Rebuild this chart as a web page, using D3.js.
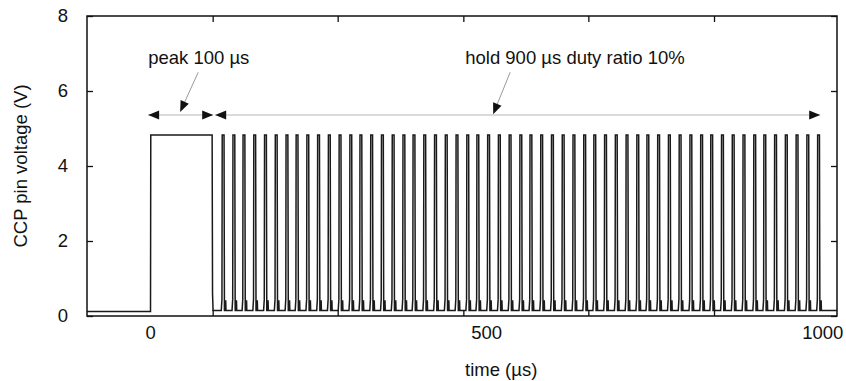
<!DOCTYPE html>
<html>
<head>
<meta charset="utf-8">
<script src="https://cdn.jsdelivr.net/npm/d3@7"></script>
<style>
  body { margin: 0; background: #fff; }
  text { font-family: "Liberation Sans", Arial, sans-serif; fill: #111; }
</style>
</head>
<body>
<svg id="chart" width="846" height="381"></svg>
<script>
// time in µs, voltage in V
const xLabelTicks = [0, 500, 1000];
const xTickMarks = [93, 279, 466, 652, 839];
const yTicks = [0, 2, 4, 6, 8];

// main "peak" pulse and baseline
const peakTrace = [[-94, 0.12], [0.5, 0.12], [0.9, 4.83], [92.2, 4.83], [92.8, 0.6], [93.6, 0.15]];

// rising edge times of the 10% hold pulses
const holdPulses = [107, 123, 138, 154, 170, 186, 202, 217, 233, 249, 265, 281, 297, 312,
  328, 344, 360, 376, 391, 407, 423, 439, 455, 471, 486, 502, 518, 534, 550, 565, 581,
  597, 613, 629, 645, 660, 676, 692, 708, 724, 739, 755, 771, 787, 803, 819, 834, 850,
  866, 882, 898, 913, 929, 945, 961, 977, 993];
// shape of one hold pulse: [offset µs, volts]
const pulseShape = [[-1.2, 0.15], [-0.2, 0.45], [0.2, 4.83], [2.9, 4.83], [3.5, 0.15],
  [5.0, 0.15], [5.4, 0.42], [5.8, 0.15]];
const tailTrace = [[1022, 0.15]];

// annotations (data coords)
const arrows = [
  { x1: -3, x2: 93.8, y: 5.36 },
  { x1: 96.7, x2: 997, y: 5.36 }
];
const pointers = [
  { x1: 71.5, y1: 6.5, x2: 44.6, y2: 5.44 },
  { x1: 535.7, y1: 6.5, x2: 510.4, y2: 5.38 }
];
const notes = [
  { x: -3, y: 6.72, text: 'peak 100 µs' },
  { x: 468.8, y: 6.72, text: 'hold 900 µs duty ratio 10%' }
];

const svg = d3.select('#chart');
const margin = { left: 87, right: 9, top: 16, bottom: 65 };
const width = 846 - margin.left - margin.right;
const height = 381 - margin.top - margin.bottom;
const fontSize = 18.5;

const x = d3.scaleLinear().domain([-94, 1022]).range([0, width]);
const y = d3.scaleLinear().domain([0, 8]).range([height, 0]);

const g = svg.append('g').attr('transform', `translate(${margin.left},${margin.top})`);

// build the trace from the arrays above
let trace = peakTrace.slice();
holdPulses.forEach((t) => {
  pulseShape.forEach(([dt, v]) => trace.push([t + dt, v]));
});
trace = trace.concat(tailTrace);

const line = d3.line()
  .x((d) => x(d[0]))
  .y((d) => y(d[1]));

g.append('path')
  .datum(trace)
  .attr('fill', 'none')
  .attr('stroke', '#1a1a1a')
  .attr('stroke-width', 1.5)
  .attr('stroke-linejoin', 'miter')
  .attr('d', line);

// axes: ticks inward, mirrored
const tickLen = 6;
g.append('g')
  .call(d3.axisLeft(y).tickValues(yTicks).tickSize(-tickLen).tickPadding(19).tickFormat(d3.format('d')))
  .call((a) => a.select('.domain').remove());
g.append('g')
  .attr('transform', `translate(${width},0)`)
  .call(d3.axisRight(y).tickValues(yTicks).tickSize(-tickLen).tickFormat(''))
  .call((a) => a.select('.domain').remove());
g.append('g')
  .attr('transform', `translate(0,${height})`)
  .call(d3.axisBottom(x).tickValues(xTickMarks).tickSize(-tickLen).tickFormat(''))
  .call((a) => a.select('.domain').remove());
g.append('g')
  .call(d3.axisTop(x).tickValues(xTickMarks).tickSize(-tickLen).tickFormat(''))
  .call((a) => a.select('.domain').remove());
g.append('g')
  .attr('transform', `translate(0,${height})`)
  .call(d3.axisBottom(x).tickValues(xLabelTicks).tickSize(0).tickPadding(10).tickFormat(d3.format('d')))
  .call((a) => a.select('.domain').remove());

g.selectAll('.tick line').attr('stroke', '#111').attr('stroke-width', 1.3);
g.selectAll('.tick text')
  .attr('font-size', fontSize)
  .attr('font-family', '"Liberation Sans", Arial, sans-serif')
  .attr('fill', '#111');

g.append('rect')
  .attr('width', width)
  .attr('height', height)
  .attr('fill', 'none')
  .attr('stroke', '#111')
  .attr('stroke-width', 1.5);

// axis titles
g.append('text')
  .attr('x', x(500) + 15)
  .attr('y', height + 60)
  .attr('text-anchor', 'middle')
  .attr('font-size', fontSize)
  .text('time (µs)');
g.append('text')
  .attr('transform', `translate(${27 - margin.left},${height / 2}) rotate(-90)`)
  .attr('text-anchor', 'middle')
  .attr('font-size', fontSize)
  .text('CCP pin voltage (V)');

// annotation arrows
const head = (tipX, tipY, dir) => {
  // dir: unit vector the arrow points along
  const len = 11, half = 4.5;
  const bx = tipX - dir[0] * len, by = tipY - dir[1] * len;
  const nx = -dir[1], ny = dir[0];
  return `M${tipX},${tipY}L${bx + nx * half},${by + ny * half}L${bx - nx * half},${by - ny * half}Z`;
};

arrows.forEach((a) => {
  const x1 = x(a.x1), x2 = x(a.x2), yy = y(a.y);
  g.append('line')
    .attr('x1', x1).attr('x2', x2).attr('y1', yy).attr('y2', yy)
    .attr('stroke', '#cfcfcf').attr('stroke-width', 1.3);
  g.append('path').attr('d', head(x1, yy, [-1, 0])).attr('fill', '#111');
  g.append('path').attr('d', head(x2, yy, [1, 0])).attr('fill', '#111');
});

pointers.forEach((p) => {
  const x1 = x(p.x1), y1 = y(p.y1), x2 = x(p.x2), y2 = y(p.y2);
  const l = Math.hypot(x2 - x1, y2 - y1);
  const dir = [(x2 - x1) / l, (y2 - y1) / l];
  g.append('line')
    .attr('x1', x1).attr('y1', y1)
    .attr('x2', x2 - dir[0] * 8).attr('y2', y2 - dir[1] * 8)
    .attr('stroke', '#999').attr('stroke-width', 1);
  g.append('path').attr('d', head(x2, y2, dir)).attr('fill', '#111');
});

notes.forEach((n) => {
  g.append('text')
    .attr('x', x(n.x))
    .attr('y', y(n.y))
    .attr('font-size', fontSize)
    .text(n.text);
});
</script>
</body>
</html>
